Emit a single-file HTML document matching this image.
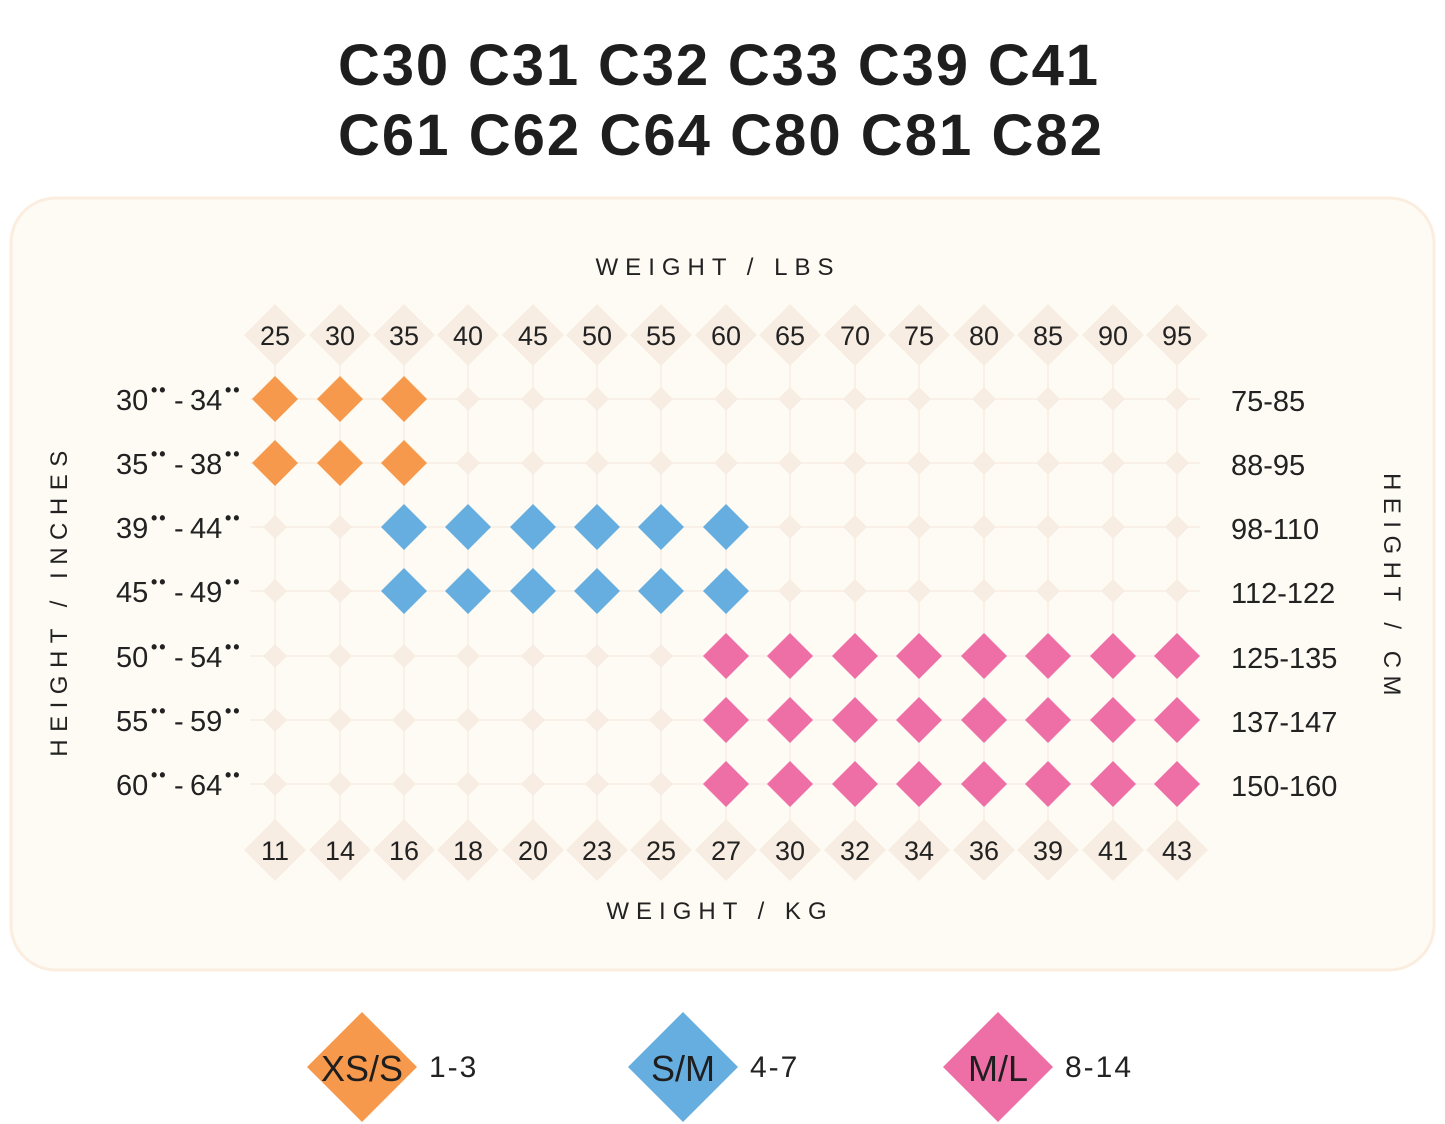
<!DOCTYPE html>
<html><head><meta charset="utf-8"><style>
html,body{margin:0;padding:0;background:#fff;}
svg{display:block;}
text{font-family:"Liberation Sans",sans-serif;}
</style></head><body>
<svg width="1445" height="1124" viewBox="0 0 1445 1124" xmlns="http://www.w3.org/2000/svg">
<text x="718" y="85" font-size="58" font-weight="bold" text-anchor="middle" fill="#1e1e1e" textLength="760" lengthAdjust="spacing">C30 C31 C32 C33 C39 C41</text>
<text x="720" y="155" font-size="58" font-weight="bold" text-anchor="middle" fill="#1e1e1e" textLength="764" lengthAdjust="spacing">C61 C62 C64 C80 C81 C82</text>
<rect x="11" y="198" width="1423" height="772" rx="45" fill="#fefaf4" stroke="#fbeee0" stroke-width="3"/>
<text x="718" y="275" font-size="24" letter-spacing="7" text-anchor="middle" fill="#222">WEIGHT / LBS</text>
<text x="720" y="919" font-size="24" letter-spacing="7" text-anchor="middle" fill="#222">WEIGHT / KG</text>
<text transform="translate(67,600) rotate(-90)" font-size="24" letter-spacing="7.5" text-anchor="middle" fill="#222">HEIGHT / INCHES</text>
<text transform="translate(1384,588) rotate(90)" font-size="24" letter-spacing="7.5" text-anchor="middle" fill="#222">HEIGHT / CM</text>
<g id="g"></g>
</svg>
<script>
var xs=[275,340,404,468,533,597,661,726,790,855,919,984,1048,1113,1177];
var ys=[399,463,527,591,656,720,784];
var lbs=[25,30,35,40,45,50,55,60,65,70,75,80,85,90,95];
var kg=[11,14,16,18,20,23,25,27,30,32,34,36,39,41,43];
var inL=[["30","34"],["35","38"],["39","44"],["45","49"],["50","54"],["55","59"],["60","64"]];
var cm=["75-85","88-95","98-110","112-122","125-135","137-147","150-160"];
var s='';
function d(x,y,h,c){return '<polygon points="'+x+','+(y-h)+' '+(x+h)+','+y+' '+x+','+(y+h)+' '+(x-h)+','+y+'" fill="'+c+'"/>';}
xs.forEach(function(x){s+='<line x1="'+x+'" y1="335" x2="'+x+'" y2="850" stroke="#f9f1e8" stroke-width="2"/>';});
ys.forEach(function(y){s+='<line x1="250" y1="'+y+'" x2="1200" y2="'+y+'" stroke="#f9f1e8" stroke-width="2"/>';});
xs.forEach(function(x,i){
 s+=d(x,335,31,'#f8ede2')+d(x,850,31,'#f8ede2');
 s+='<text x="'+x+'" y="345" font-size="27" text-anchor="middle" fill="#222">'+lbs[i]+'</text>';
 s+='<text x="'+x+'" y="860" font-size="27" text-anchor="middle" fill="#222">'+kg[i]+'</text>';
});
ys.forEach(function(y,r){
 xs.forEach(function(x,c){
  var col=null;
  if(r<2&&c<3)col='#f6994c';
  else if((r==2||r==3)&&c>=2&&c<=7)col='#66ade0';
  else if(r>=4&&c>=7)col='#ee6ea6';
  s+= col? d(x,y,23,col) : d(x,y,12,'#f8ede2');
 });
 var t=y+11;
 s+='<text x="116" y="'+t+'" font-size="29" fill="#222">'+inL[r][0]+'</text>';
 s+='<text x="151" y="'+(t-14)+'" font-size="18" font-weight="bold" fill="#222" letter-spacing="2">••</text>';
 s+='<text x="174" y="'+t+'" font-size="29" fill="#222">-</text>';
 s+='<text x="190" y="'+t+'" font-size="29" fill="#222">'+inL[r][1]+'</text>';
 s+='<text x="225" y="'+(t-14)+'" font-size="18" font-weight="bold" fill="#222" letter-spacing="2">••</text>';
 s+='<text x="1231" y="'+(y+12)+'" font-size="29" fill="#222">'+cm[r]+'</text>';
});
var L=[[362,'#f6994c','XS/S','1-3'],[683,'#66ade0','S/M','4-7'],[998,'#ee6ea6','M/L','8-14']];
L.forEach(function(l){
 s+=d(l[0],1067,55,l[1]);
 s+='<text x="'+l[0]+'" y="1081" font-size="36" text-anchor="middle" fill="#1e1e1e">'+l[2]+'</text>';
 s+='<text x="'+(l[0]+67)+'" y="1077" font-size="30" fill="#222" letter-spacing="2">'+l[3]+'</text>';
});
document.getElementById('g').innerHTML=s;
</script>
</body></html>
